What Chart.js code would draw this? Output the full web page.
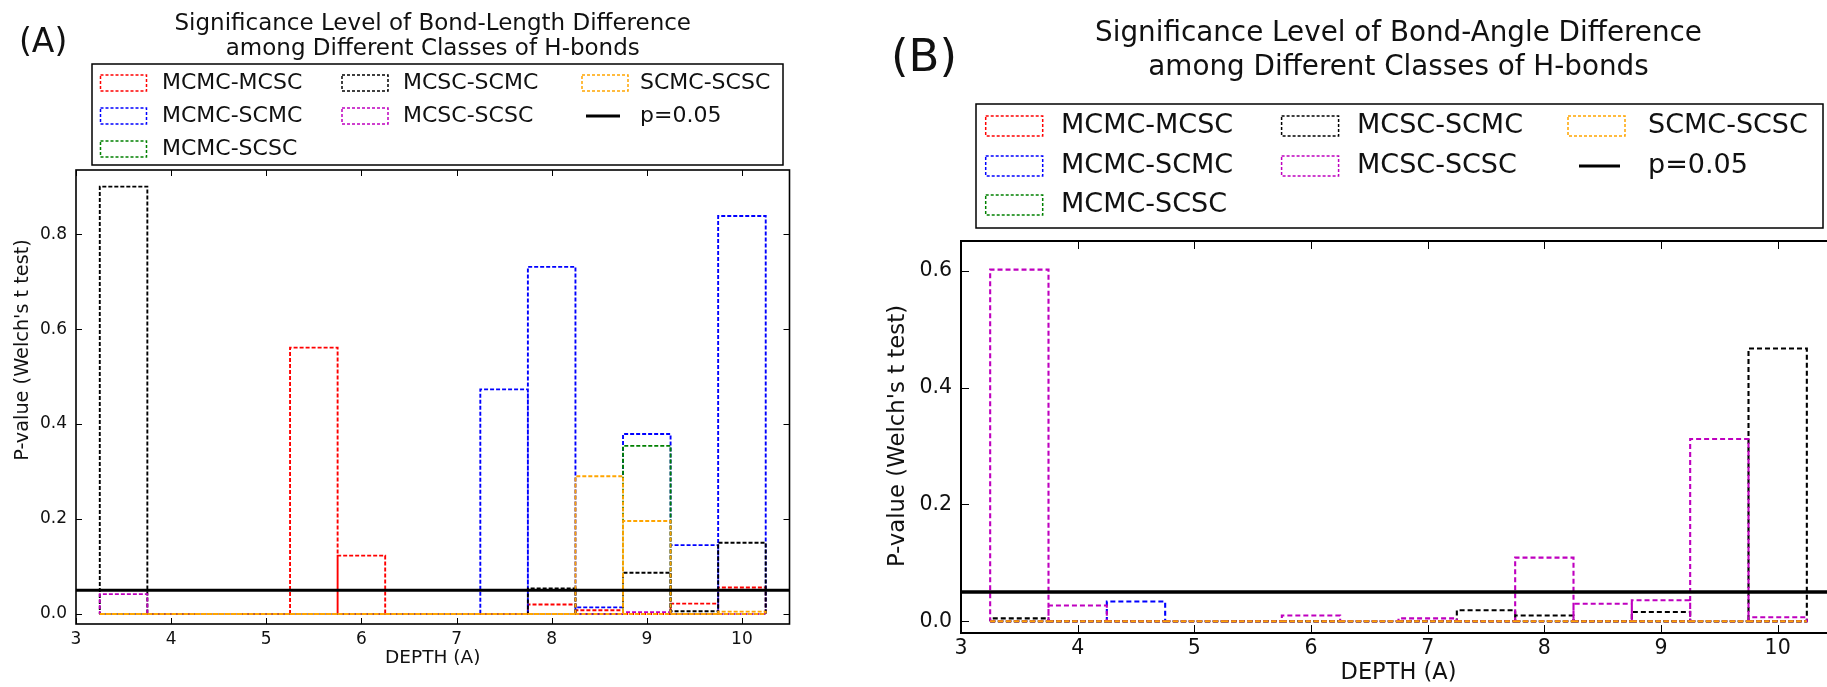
<!DOCTYPE html>
<html>
<head>
<meta charset="utf-8">
<script src="https://cdn.jsdelivr.net/npm/chart.js@4.4.1/dist/chart.umd.min.js"></script>
<style>
  html, body { margin: 0; padding: 0; background: #fff; }
  #page { position: relative; width: 1827px; height: 687px; overflow: hidden; background: #fff; }
  .panel { position: absolute; top: 0; height: 687px; }
  #wrapA { left: 0; width: 840px; }
  #wrapB { left: 860px; width: 1000px; }
</style>
</head>
<body>
<div id="page">
  <div class="panel" id="wrapA"><canvas id="chartA"></canvas></div>
  <div class="panel" id="wrapB"><canvas id="chartB"></canvas></div>
</div>
<script>
// bins: centre of each depth bin, all bins 0.5 wide
const BIN_CENTERS = [3.5, 4, 4.5, 5, 5.5, 6, 6.5, 7, 7.5, 8, 8.5, 9, 9.5, 10];
const BIN_WIDTH = 0.5;

const SERIES_LABELS = ['MCMC-MCSC', 'MCMC-SCMC', 'MCMC-SCSC', 'MCSC-SCMC', 'MCSC-SCSC', 'SCMC-SCSC'];
const SERIES_COLORS = ['#ff0000', '#0000ff', '#008000', '#000000', '#bf00bf', '#ffa500'];
const P_LABEL = 'p=0.05';
const P_LEVEL = 0.05;

const X_TICKS = [3, 4, 5, 6, 7, 8, 9, 10];
const X_RANGE = [3, 10.5];
const X_LABEL = 'DEPTH (A)';
const Y_LABEL = "P-value (Welch's t test)";

// (A) bond length
const lengthMcmcMcsc = [0, 0, 0, 0, 0.561, 0.123, 0, 0, 0, 0.020, 0.008, 0, 0.022, 0.056];
const lengthMcmcScmc = [0, 0, 0, 0, 0, 0, 0, 0, 0.473, 0.731, 0.014, 0.379, 0.145, 0.838];
const lengthMcmcScsc = [0, 0, 0, 0, 0, 0, 0, 0, 0, 0, 0, 0.354, 0, 0];
const lengthMcscScmc = [0.900, 0, 0, 0, 0, 0, 0, 0, 0, 0.054, 0, 0.087, 0.006, 0.150];
const lengthMcscScsc = [0.042, 0, 0, 0, 0, 0, 0, 0, 0, 0, 0, 0.004, 0, 0];
const lengthScmcScsc = [0, 0, 0, 0, 0, 0, 0, 0, 0, 0, 0.290, 0.196, 0, 0.005];
const TITLE_LENGTH = ['Significance Level of Bond-Length Difference', 'among Different Classes of H-bonds'];
const Y_TICKS_LENGTH = [0, 0.2, 0.4, 0.6, 0.8];
const Y_RANGE_LENGTH = [-0.021, 0.935];

// (B) bond angle
const angleMcmcMcsc = [0, 0, 0, 0, 0, 0, 0, 0, 0, 0, 0, 0, 0, 0];
const angleMcmcScmc = [0, 0, 0.034, 0, 0, 0, 0, 0, 0, 0, 0, 0, 0, 0];
const angleMcmcScsc = [0, 0, 0, 0, 0, 0, 0, 0, 0, 0, 0, 0, 0, 0];
const angleMcscScmc = [0.005, 0, 0, 0, 0, 0, 0, 0, 0.019, 0.010, 0, 0.016, 0, 0.467];
const angleMcscScsc = [0.602, 0.027, 0, 0, 0, 0.010, 0, 0.005, 0, 0.109, 0.030, 0.036, 0.312, 0.007];
const angleScmcScsc = [0, 0, 0, 0, 0, 0, 0, 0, 0, 0, 0, 0, 0, 0];
const TITLE_ANGLE = ['Significance Level of Bond-Angle Difference', 'among Different Classes of H-bonds'];
const Y_TICKS_ANGLE = [0, 0.2, 0.4, 0.6];
const Y_RANGE_ANGLE = [-0.02, 0.651];

const FONT = '"DejaVu Sans", sans-serif';
Chart.defaults.font.family = FONT;
Chart.defaults.color = '#111';

// legend slots [column, row]: 3 columns holding 3, 2 and 2 entries
const LEGEND_SLOTS = [[0, 0], [0, 1], [0, 2], [1, 0], [1, 1], [2, 0], [2, 1]];

// each bar is its own closed outline (bottom, right, top, left), with a
// gap point between bars so the dash pattern restarts at every bar
function binOutline(values) {
  const pts = [];
  BIN_CENTERS.forEach((c, i) => {
    const l = c - BIN_WIDTH / 2, r = c + BIN_WIDTH / 2;
    pts.push({x: l, y: 0}, {x: r, y: 0}, {x: r, y: values[i]}, {x: l, y: values[i]}, {x: l, y: 0});
    pts.push({x: r, y: null});
  });
  return pts;
}

const decor = {
  id: 'decor',
  afterDatasetsDraw(chart, args, o) {
    const {ctx, chartArea: a, scales} = chart;
    ctx.save();
    ctx.strokeStyle = '#000';
    ctx.lineWidth = 1;
    ctx.beginPath();
    scales.x.ticks.forEach(t => {
      const px = Math.round(scales.x.getPixelForValue(t.value)) + 0.5;
      ctx.moveTo(px, a.bottom); ctx.lineTo(px, a.bottom - o.tickLen);
      ctx.moveTo(px, a.top); ctx.lineTo(px, a.top + o.tickLen);
    });
    scales.y.ticks.forEach(t => {
      const py = Math.round(scales.y.getPixelForValue(t.value)) + 0.5;
      ctx.moveTo(a.left, py); ctx.lineTo(a.left + o.tickLen, py);
      ctx.moveTo(a.right, py); ctx.lineTo(a.right - o.tickLen, py);
    });
    ctx.stroke();
    ctx.lineWidth = o.frameWidth;
    ctx.strokeRect(a.left, a.top, a.right - a.left, a.bottom - a.top);
    ctx.restore();
  },
  afterDraw(chart, args, o) {
    const {ctx, chartArea: a} = chart;
    ctx.save();
    ctx.fillStyle = '#111';

    // title
    ctx.textAlign = 'center';
    ctx.textBaseline = 'middle';
    ctx.font = `${o.titleSize}px ${FONT}`;
    o.title.forEach((line, i) => ctx.fillText(line, (a.left + a.right) / 2, o.titleY[i]));

    // panel letter
    ctx.textAlign = 'left';
    ctx.textBaseline = 'alphabetic';
    ctx.font = `${o.letterSize}px ${FONT}`;
    ctx.fillText(o.letter, o.letterX, o.letterY);

    // y label
    ctx.save();
    ctx.translate(o.yLabelX, o.yLabelY);
    ctx.rotate(-Math.PI / 2);
    ctx.textAlign = 'center';
    ctx.textBaseline = 'middle';
    ctx.font = `${o.yLabelSize}px ${FONT}`;
    ctx.fillText(Y_LABEL, 0, 0);
    ctx.restore();

    // legend
    const L = o.legend;
    ctx.fillStyle = '#fff';
    ctx.fillRect(L.box[0], L.box[1], L.box[2] - L.box[0], L.box[3] - L.box[1]);
    ctx.strokeStyle = '#000';
    ctx.lineWidth = 1.5;
    ctx.strokeRect(L.box[0], L.box[1], L.box[2] - L.box[0], L.box[3] - L.box[1]);
    ctx.font = `${L.size}px ${FONT}`;
    ctx.textAlign = 'left';
    ctx.textBaseline = 'middle';
    chart.data.datasets.forEach((ds, i) => {
      const [col, row] = LEGEND_SLOTS[i];
      const y = L.rows[row];
      const sx = L.swatchX[col];
      ctx.strokeStyle = ds.borderColor;
      if (ds.isThreshold) {
        ctx.setLineDash([]);
        ctx.lineWidth = 3;
        ctx.beginPath();
        ctx.moveTo(L.lineX[0], y); ctx.lineTo(L.lineX[1], y);
        ctx.stroke();
      } else {
        ctx.setLineDash([3, 2]);
        ctx.lineWidth = 1.5;
        ctx.strokeRect(sx, y - L.swatchH / 2, L.swatchW, L.swatchH);
      }
      ctx.setLineDash([]);
      ctx.fillStyle = '#111';
      ctx.fillText(ds.label, L.textX[col], y);
    });
    ctx.restore();
  }
};

function makeChart(canvasId, seriesValues, cfg) {
  const datasets = seriesValues.map((vals, i) => ({
    label: SERIES_LABELS[i],
    data: binOutline(vals),
    borderColor: SERIES_COLORS[i],
    borderWidth: cfg.lineWidth,
    borderDash: cfg.dash,
    borderCapStyle: 'butt',
    spanGaps: false,
    pointRadius: 0,
    fill: false,
    tension: 0,
    order: seriesValues.length - i
  }));
  datasets.push({
    label: P_LABEL,
    isThreshold: true,
    data: [{x: X_RANGE[0], y: P_LEVEL}, {x: X_RANGE[1], y: P_LEVEL}],
    borderColor: '#000',
    borderWidth: cfg.pLineWidth,
    pointRadius: 0,
    fill: false,
    order: 0
  });

  return new Chart(document.getElementById(canvasId), {
    type: 'line',
    data: {datasets},
    options: {
      responsive: true,
      maintainAspectRatio: false,
      animation: false,
      events: [],
      layout: {padding: cfg.padding},
      plugins: {
        legend: {display: false},
        title: {display: false},
        tooltip: {enabled: false},
        decor: cfg.decor
      },
      scales: {
        x: {
          type: 'linear',
          min: X_RANGE[0],
          max: X_RANGE[1],
          afterBuildTicks: s => { s.ticks = X_TICKS.map(v => ({value: v})); },
          afterFit: s => { s.height = cfg.xAxisHeight; },
          grid: {display: false, drawTicks: false},
          border: {display: false},
          ticks: {
            autoSkip: false, maxRotation: 0, padding: cfg.xTickPad,
            font: {size: cfg.tickSize}, color: '#111',
            callback: v => String(v)
          },
          title: {
            display: true, text: X_LABEL, color: '#111',
            font: {size: cfg.xLabelSize}, padding: {top: 0, bottom: cfg.xLabelPad}
          }
        },
        y: {
          type: 'linear',
          min: cfg.yRange[0],
          max: cfg.yRange[1],
          afterBuildTicks: s => { s.ticks = cfg.yTicks.map(v => ({value: v})); },
          afterFit: s => { s.width = cfg.yAxisWidth; },
          grid: {display: false, drawTicks: false},
          border: {display: false},
          ticks: {
            autoSkip: false, padding: cfg.yTickPad,
            font: {size: cfg.tickSize}, color: '#111',
            callback: v => v.toFixed(1)
          }
        }
      }
    },
    plugins: [decor]
  });
}

makeChart('chartA',
  [lengthMcmcMcsc, lengthMcmcScmc, lengthMcmcScsc, lengthMcscScmc, lengthMcscScsc, lengthScmcScsc],
  {
    lineWidth: 1.9, dash: [4, 2], pLineWidth: 3,
    padding: {left: 0, right: 50.5, top: 170, bottom: 0},
    xAxisHeight: 63, yAxisWidth: 76,
    yRange: Y_RANGE_LENGTH, yTicks: Y_TICKS_LENGTH,
    tickSize: 17, xTickPad: 5, yTickPad: 9,
    xLabelSize: 18.5, xLabelPad: 18,
    decor: {
      tickLen: 6, frameWidth: 1.6,
      title: TITLE_LENGTH, titleSize: 23, titleY: [24, 49],
      letter: '(A)', letterSize: 33, letterX: 19, letterY: 52,
      yLabelX: 23, yLabelY: 350, yLabelSize: 19.3,
      legend: {
        box: [92, 64, 783, 165], size: 22,
        rows: [83, 116, 149],
        swatchX: [100.5, 342, 582], swatchW: 46, swatchH: 16,
        textX: [162, 403, 640], lineX: [586, 620]
      }
    }
  });

makeChart('chartB',
  [angleMcmcMcsc, angleMcmcScmc, angleMcmcScsc, angleMcscScmc, angleMcscScsc, angleScmcScsc],
  {
    lineWidth: 2.1, dash: [5, 3], pLineWidth: 3.5,
    padding: {left: 0, right: 24, top: 241, bottom: 0},
    xAxisHeight: 54, yAxisWidth: 101,
    yRange: Y_RANGE_ANGLE, yTicks: Y_TICKS_ANGLE,
    tickSize: 20.5, xTickPad: 3, yTickPad: 9,
    xLabelSize: 22.5, xLabelPad: 0,
    decor: {
      tickLen: 8, frameWidth: 2,
      title: TITLE_ANGLE, titleSize: 27.8, titleY: [34, 68],
      letter: '(B)', letterSize: 45, letterX: 31, letterY: 71,
      yLabelX: 38, yLabelY: 436, yLabelSize: 22.8,
      legend: {
        box: [116, 104, 963, 228], size: 27,
        rows: [126, 166, 205],
        swatchX: [125.7, 421.6, 708], swatchW: 57, swatchH: 20,
        textX: [201, 497, 788], lineX: [719, 760]
      }
    }
  });
</script>
</body>
</html>
